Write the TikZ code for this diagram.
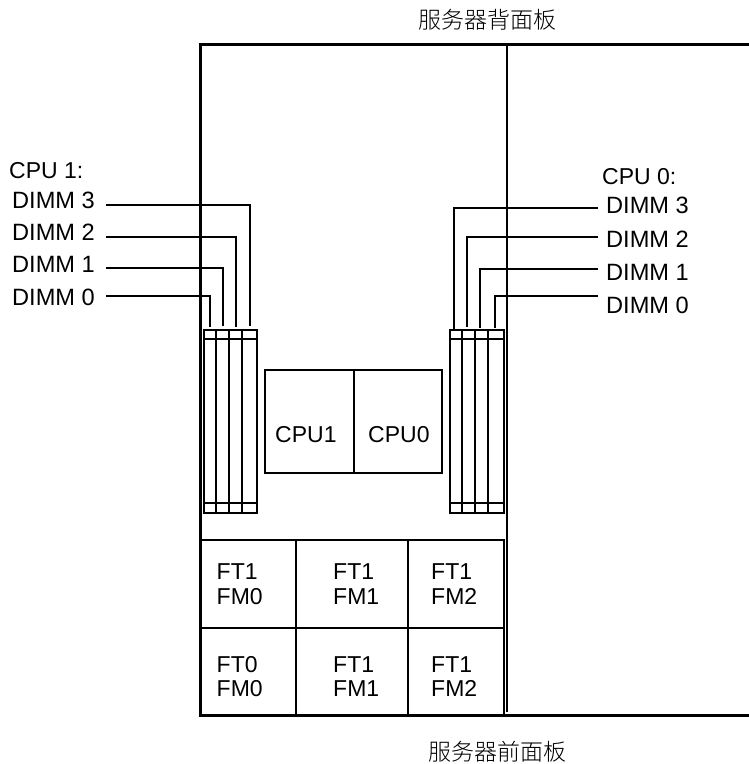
\documentclass[tikz,border=0pt]{standalone}
\usepackage{fontspec}
\setmainfont{Liberation Sans}
\newfontfamily\cjkfont{Noto Sans CJK SC Light}
\usepackage{xcolor}
\usetikzlibrary{positioning}

\begin{document}
\begin{tikzpicture}[
  x=1pt, y=-1pt,
  panel/.style={line width=3pt, line cap=rect},
  lead/.style={line width=2pt},
  slot/.style={draw, line width=2pt, minimum height=183pt, inner sep=0pt, outer sep=0pt},
  bar/.style={line width=2pt},
  cell/.style={draw, line width=2pt, inner sep=0pt, outer sep=0pt},
  tag/.style={inner sep=0pt, font=\fontsize{23}{23}\selectfont},
  wide/.style={inner sep=0pt, font=\fontsize{23.6}{23.6}\selectfont},
  fan/.style={inner sep=0pt, align=left, font=\fontsize{23}{24.5}\selectfont},
  title/.style={inner sep=0pt, font=\cjkfont\fontsize{23}{23}\selectfont}
]
\useasboundingbox (0,0) rectangle (749,764);
\fill[white] (0,0) rectangle (749,764);

% chassis
\coordinate (backleft) at (200,44);
\coordinate (backright) at (749,44);
\coordinate (frontleft) at (200,715);
\coordinate (frontright) at (749,715);
\coordinate (midtop) at (507,44);
\coordinate (midbottom) at (507,712);
\draw[panel] (backright) -- (backleft) -- (frontleft) -- (frontright);
\draw[lead] (midtop) -- (midbottom);

\node[title] (back) at (487.5,20) {服务器背面板};
\node[title] (front) at (497.5,752) {服务器前面板};

% memory slots
\foreach \name/\xpos/\wid in {la/210/12.5, lb/222.5/13, lc/235.5/13, ld/249.5/15,
                              ra/456/12.5, rb/468.5/13, rc/481.5/13, rd/496/16} {
  \node[slot, minimum width=\wid pt] (\name) at (\xpos,421.5) {};
  \draw[bar] ([yshift=-9pt]\name.north west) -- ([yshift=-9pt]\name.north east);
  \draw[bar] ([yshift=10pt]\name.south west) -- ([yshift=10pt]\name.south east);
}

% left labels
\node[tag, anchor=west] (cpuone) at (9,171) {CPU 1:};
\node[wide, anchor=west] (ldimmd) at (12,200) {DIMM 3};
\node[wide, anchor=west] (ldimmc) at (12,232) {DIMM 2};
\node[wide, anchor=west] (ldimmb) at (12,264) {DIMM 1};
\node[wide, anchor=west] (ldimma) at (12,297) {DIMM 0};

% right labels
\node[tag, anchor=west] (cpuzero) at (602,177) {CPU 0:};
\node[wide, anchor=west] (rdimmd) at (606,205) {DIMM 3};
\node[wide, anchor=west] (rdimmc) at (606,239) {DIMM 2};
\node[wide, anchor=west] (rdimmb) at (606,272) {DIMM 1};
\node[wide, anchor=west] (rdimma) at (606,305) {DIMM 0};

% leads
\draw[lead] ([xshift=11pt,yshift=-5pt]ldimmd.east) -| ([yshift=4pt]ld.north);
\draw[lead] ([xshift=11pt,yshift=-5pt]ldimmc.east) -| ([yshift=3pt]lc.north);
\draw[lead] ([xshift=11pt,yshift=-4pt]ldimmb.east) -| ([yshift=4pt]lb.north);
\draw[lead] ([xshift=11pt,yshift=1pt]ldimma.east) -| ([yshift=3pt]la.north);
\draw[lead] ([xshift=-8pt,yshift=-3pt]rdimmd.west) -| ([xshift=-2pt,yshift=1pt]ra.north);
\draw[lead] ([xshift=-8pt,yshift=2pt]rdimmc.west) -| ([xshift=-1.5pt,yshift=3pt]rb.north);
\draw[lead] ([xshift=-8pt,yshift=3pt]rdimmb.west) -| ([xshift=-1.5pt,yshift=2pt]rc.north);
\draw[lead] ([xshift=-8pt,yshift=9pt]rdimma.west) -| ([xshift=-1pt,yshift=2pt]rd.north);

% processors
\node[cell, minimum width=89pt, minimum height=103pt] (cpub) at (309.5,421.5) {};
\node[cell, minimum width=88pt, minimum height=103pt, right=0pt of cpub] (cpua) {};
\node[tag, anchor=west] (cpubname) at ([xshift=10pt,yshift=-13.5pt]cpub.west) {CPU1};
\node[tag, anchor=west] (cpuaname) at ([xshift=14pt,yshift=-13.5pt]cpua.west) {CPU0};

% fan modules
\node[cell, minimum width=96pt, minimum height=88pt] (fana) at (248,584) {};
\node[cell, minimum width=112pt, minimum height=88pt, right=0pt of fana] (fanb) {};
\node[cell, minimum width=96pt, minimum height=88pt, right=0pt of fanb] (fanc) {};
\node[cell, minimum width=96pt, minimum height=87.5pt, below=0pt of fana] (fand) {};
\node[cell, minimum width=112pt, minimum height=87.5pt, right=0pt of fand] (fane) {};
\node[cell, minimum width=96pt, minimum height=87.5pt, right=0pt of fane] (fanf) {};
\node[fan, right=16.5pt of fana.west] (fananame) {FT1\\FM0};
\node[fan, right=37pt of fanb.west] (fanbname) {FT1\\FM1};
\node[fan, right=23pt of fanc.west] (fancname) {FT1\\FM2};
\node[fan, right=16.5pt of fand.west, yshift=-5pt] (fandname) {FT0\\FM0};
\node[fan, right=37pt of fane.west, yshift=-5pt] (fanename) {FT1\\FM1};
\node[fan, right=23pt of fanf.west, yshift=-5pt] (fanfname) {FT1\\FM2};
\end{tikzpicture}
\end{document}
